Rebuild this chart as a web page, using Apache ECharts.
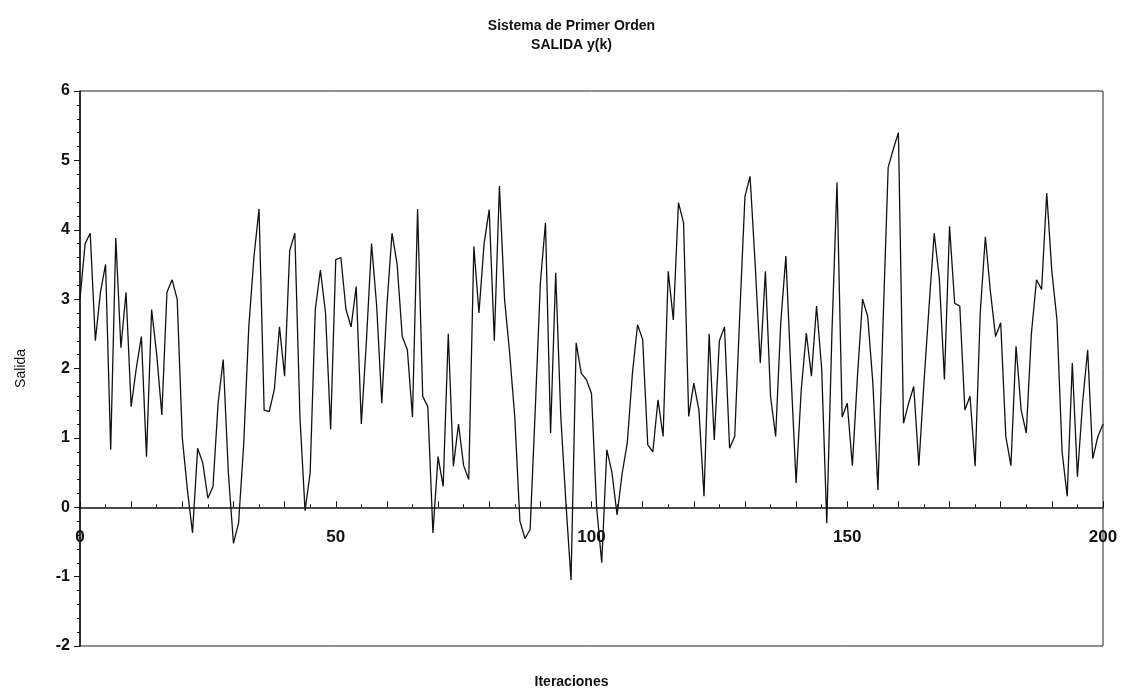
<!DOCTYPE html>
<html>
<head>
<meta charset="utf-8">
<script src="https://cdn.jsdelivr.net/npm/echarts@6/dist/echarts.min.js"></script>
<style>
html,body{margin:0;padding:0;background:#fff;}
#grafica{width:1143px;height:692px;}
</style>
</head>
<body>
<div id="grafica"></div>
<script>
// salida y(k), k = 0..200
var salida = [
 3.0, 3.8, 3.95, 2.4, 3.1, 3.5, 0.83, 3.88, 2.3, 3.1,
 1.45, 2.0, 2.46, 0.73, 2.85, 2.2, 1.33, 3.1, 3.28, 3.0,
 1.0, 0.25, -0.37, 0.85, 0.64, 0.13, 0.3, 1.5, 2.13, 0.5,
 -0.52, -0.23, 0.9, 2.6, 3.6, 4.3, 1.4, 1.38, 1.7, 2.6,
 1.89, 3.7, 3.95, 1.3, -0.05, 0.5, 2.85, 3.42, 2.8, 1.12,
 3.57, 3.6, 2.85, 2.6, 3.18, 1.2, 2.4, 3.8, 2.9, 1.5,
 2.9, 3.95, 3.5, 2.46, 2.27, 1.3, 4.3, 1.6, 1.45, -0.37,
 0.73, 0.3, 2.5, 0.59, 1.2, 0.6, 0.4, 3.76, 2.8, 3.8,
 4.29, 2.4, 4.63, 3.0, 2.22, 1.3, -0.2, -0.45, -0.32, 1.4,
 3.23, 4.1, 1.07, 3.38, 1.3, 0.06, -1.05, 2.37, 1.93, 1.84,
 1.64, 0.0, -0.8, 0.83, 0.5, -0.11, 0.49, 0.93, 1.93, 2.63,
 2.42, 0.9, 0.8, 1.55, 1.02, 3.4, 2.7, 4.39, 4.1, 1.31,
 1.79, 1.4, 0.16, 2.5, 0.97, 2.4, 2.6, 0.85, 1.02, 2.8,
 4.48, 4.77, 3.5, 2.08, 3.4, 1.6, 1.02, 2.66, 3.62, 1.93,
 0.35, 1.69, 2.51, 1.89, 2.9, 2.0, -0.23, 2.5, 4.68, 1.3,
 1.5, 0.6, 1.89, 3.0, 2.75, 1.8, 0.25, 2.66, 4.9, 5.16,
 5.4, 1.21, 1.5, 1.74, 0.6, 1.8, 2.9, 3.95, 3.3, 1.84,
 4.05, 2.94, 2.9, 1.4, 1.6, 0.59, 2.8, 3.9, 3.1, 2.46,
 2.66, 1.02, 0.6, 2.32, 1.4, 1.07, 2.5, 3.28, 3.14, 4.53,
 3.4, 2.7, 0.8, 0.16, 2.08, 0.44, 1.5, 2.27, 0.7, 1.02,
 1.2
];
var etiquetasX = [0, 50, 100, 150, 200];

var puntos = [];
for (var k = 0; k < salida.length; k++) {
  puntos.push([k, salida[k]]);
}

var fuente = '"Liberation Sans", Arial, sans-serif';
var myChart = echarts.init(document.getElementById('grafica'));
var option = {
  animation: false,
  backgroundColor: '#fff',
  title: [
    {
      text: 'Sistema de Primer Orden\nSALIDA y(k)',
      left: 'center',
      top: 12,
      textStyle: {
        color: '#111',
        fontFamily: fuente,
        fontWeight: 'bold',
        fontSize: 14,
        lineHeight: 19
      }
    },
    {
      text: 'Iteraciones',
      left: 'center',
      top: 670,
      textStyle: {
        color: '#111',
        fontFamily: fuente,
        fontWeight: 'bold',
        fontSize: 14
      }
    }
  ],
  grid: {
    left: 80,
    right: 40,
    top: 91,
    bottom: 46,
    show: true,
    borderColor: '#222',
    borderWidth: 1
  },
  xAxis: {
    type: 'value',
    min: 0,
    max: 200,
    interval: 10,
    offset: -138.75,   // eje en y = 0 (altura 555, 2/8 de ella)
    axisLine: {
      onZero: false,
      lineStyle: { color: '#111', width: 1.5 }
    },
    axisTick: {
      inside: true,
      length: 6,
      lineStyle: { color: '#111' }
    },
    minorTick: {
      show: true,
      splitNumber: 2,
      length: 3,
      lineStyle: { color: '#111' }
    },
    splitLine: { show: false },
    axisLabel: {
      color: '#111',
      fontFamily: fuente,
      fontWeight: 'bold',
      fontSize: 17,
      margin: 22,
      formatter: function (v) {
        return etiquetasX.indexOf(v) >= 0 ? String(v) : '';
      }
    }
  },
  yAxis: {
    type: 'value',
    min: -2,
    max: 6,
    interval: 1,
    name: 'Salida',
    nameLocation: 'middle',
    nameGap: 52,
    nameRotate: 90,
    nameTextStyle: {
      color: '#111',
      fontFamily: fuente,
      fontSize: 14
    },
    axisLine: {
      show: true,
      lineStyle: { color: '#111', width: 1.5 }
    },
    axisTick: {
      show: true,
      length: 6,
      lineStyle: { color: '#111' }
    },
    minorTick: {
      show: true,
      splitNumber: 5,
      length: 3,
      lineStyle: { color: '#111' }
    },
    splitLine: { show: false },
    axisLabel: {
      color: '#111',
      fontFamily: fuente,
      fontWeight: 'bold',
      fontSize: 16,
      margin: 10
    }
  },
  series: [
    {
      name: 'y(k)',
      type: 'line',
      data: puntos,
      showSymbol: false,
      symbol: 'none',
      lineStyle: { color: '#111', width: 1.3 }
    }
  ]
};
myChart.setOption(option);
</script>
</body>
</html>
